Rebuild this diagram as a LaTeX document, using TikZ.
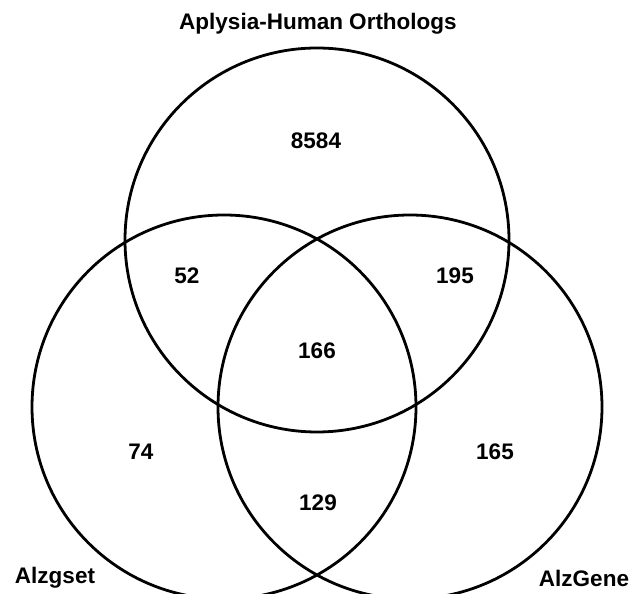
\documentclass[tikz,border=0pt]{standalone}
\usepackage{fontspec}
\setmainfont{Liberation Sans}
\begin{document}
\begin{tikzpicture}[x=1pt,y=1pt]
\useasboundingbox (0,0) rectangle (640,594);
\tikzset{venn/.style={draw, line width=2.8pt},
  lbl/.style={font=\fontsize{22.5}{27}\selectfont\bfseries, inner sep=0pt}}

\draw[venn] (317,354) circle (192);
\draw[venn] (224,187) circle (192);
\draw[venn] (410,187) circle (192);

\node[lbl] (t) at (318,570) {Aplysia-Human Orthologs};
\node[lbl] (l) at (55,16) {Alzgset};
\node[lbl] (r) at (584,16) {AlzGene};

\node[lbl] (n1) at (316,453) {8584};
\node[lbl] (n2) at (187,318) {52};
\node[lbl] (n3) at (455,318) {195};
\node[lbl] (n4) at (317,243) {166};
\node[lbl] (n5) at (141,142) {74};
\node[lbl] (n6) at (495,142) {165};
\node[lbl] (n7) at (318,91) {129};
\end{tikzpicture}
\end{document}
